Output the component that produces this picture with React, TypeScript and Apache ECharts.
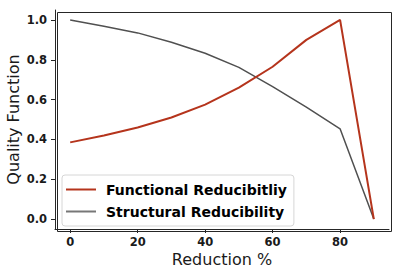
import React, { useEffect, useRef } from "react";
import * as echarts from "echarts";

const xValues = [0, 10, 20, 30, 40, 50, 60, 70, 80, 90];
const functional = [0.385, 0.42, 0.46, 0.51, 0.575, 0.66, 0.765, 0.9, 1.0, 0.0];
const structural = [1.0, 0.968, 0.935, 0.888, 0.833, 0.762, 0.665, 0.562, 0.453, 0.0];
const seriesNames = ["Functional Reducibitliy", "Structural Reducibility"];
const xTicks = [0, 20, 40, 60, 80];
const yTicks = [0, 0.2, 0.4, 0.6, 0.8, 1.0];

export default function App() {
  const ref = useRef<HTMLDivElement>(null);
  useEffect(() => {
    if (!ref.current) return;
    const chart = echarts.init(ref.current, undefined, { renderer: "svg" });
    const font = "DejaVu Sans";
    chart.setOption({
      animation: false,
      backgroundColor: "#ffffff",
      grid: { left: 55, right: 11, top: 10, bottom: 45, containLabel: false, outerBoundsMode: "none" },
      xAxis: {
        type: "value",
        min: -4.5,
        max: 94.5,
        name: "Reduction %",
        nameLocation: "middle",
        nameGap: 22,
        nameMoveOverlap: false,
        nameTextStyle: { fontFamily: font, fontSize: 16, color: "#1a1a1a" },
        axisLine: { onZero: false, lineStyle: { color: "#262626", width: 1 } },
        axisTick: { show: true, length: 4, lineStyle: { color: "#262626" }, customValues: xTicks },
        axisLabel: {
          fontFamily: font,
          fontWeight: "bold",
          fontSize: 11.5,
          color: "#1a1a1a",
          margin: 7,
          customValues: xTicks,
        },
        splitLine: { show: false },
      },
      yAxis: {
        type: "value",
        min: -0.05,
        max: 1.05,
        name: "Quality Function",
        nameLocation: "middle",
        nameGap: 34,
        nameMoveOverlap: false,
        nameRotate: 90,
        nameTextStyle: { fontFamily: font, fontSize: 16, color: "#1a1a1a" },
        axisLine: { show: true, onZero: false, lineStyle: { color: "#262626", width: 1 } },
        axisTick: { show: true, length: 4, lineStyle: { color: "#262626" }, customValues: yTicks },
        axisLabel: {
          fontFamily: font,
          fontWeight: "bold",
          fontSize: 11.5,
          color: "#1a1a1a",
          margin: 8,
          customValues: yTicks,
          formatter: (v: number) => v.toFixed(1),
        },
        splitLine: { show: false },
      },
      legend: {
        orient: "vertical",
        left: 62,
        top: 175,
        padding: [6, 7, 6, 4],
        itemGap: 5,
        itemWidth: 30,
        itemHeight: 2,
        icon: "rect",
        borderColor: "#d6d6d6",
        borderWidth: 1,
        borderRadius: 3,
        backgroundColor: "rgba(255,255,255,0.8)",
        textStyle: { fontFamily: font, fontWeight: "bold", fontSize: 14, color: "#000", padding: [0, 0, 0, 5], lineHeight: 17 },
        data: seriesNames,
      },
      graphic: [
        {
          type: "rect",
          left: 55,
          top: 10,
          shape: { width: 334, height: 219 },
          style: { fill: "none", stroke: "#262626", lineWidth: 1 },
          silent: true,
          z: 0,
        },
      ],
      series: [
        {
          name: seriesNames[0],
          type: "line",
          data: xValues.map((x, i) => [x, functional[i]]),
          symbol: "none",
          lineStyle: { color: "#b5341c", width: 2 },
          itemStyle: { color: "#b5341c" },
          z: 3,
        },
        {
          name: seriesNames[1],
          type: "line",
          data: xValues.map((x, i) => [x, structural[i]]),
          symbol: "none",
          lineStyle: { color: "#505050", width: 1.5 },
          itemStyle: { color: "#777777" },
          z: 2,
        },
      ],
    });
    return () => chart.dispose();
  }, []);
  return (
    <div
      ref={ref}
      style={{ width: 400, height: 274, position: "absolute", left: 0, top: 0 }}
    />
  );
}
